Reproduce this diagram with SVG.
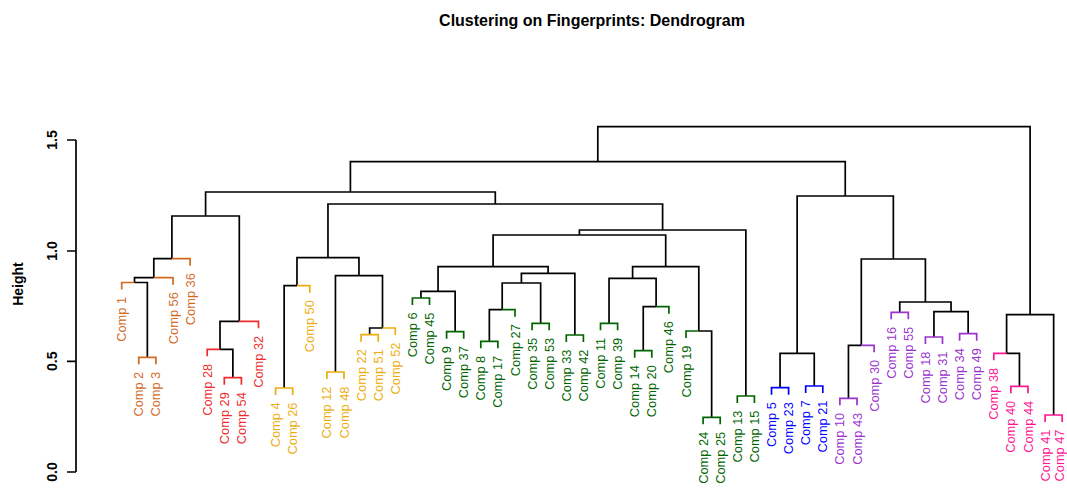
<svg xmlns="http://www.w3.org/2000/svg" width="1067" height="488" viewBox="0 0 1067 488">
<style>
text{font-family:"Liberation Sans",Arial,sans-serif}
.t{font-size:16px;font-weight:bold;fill:#000}
.ax{font-size:14px;font-weight:bold;fill:#000}
.lb{font-size:12.8px}
path{fill:none;stroke-width:1.7}
.k{stroke:#000}
.o{stroke:#D2691E}.r{stroke:#EE2C2C}.y{stroke:#EEAD0E}.g{stroke:#006400}.b{stroke:#0000FF}.p{stroke:#9A32CD}.m{stroke:#FF1493}
.fo{fill:#D2691E}.fr{fill:#EE2C2C}.fy{fill:#EEAD0E}.fg{fill:#006400}.fb{fill:#0000FF}.fp{fill:#9A32CD}.fm{fill:#FF1493}
</style>
<rect width="1067" height="488" fill="#fff"/>
<text class="t" x="592" y="26" text-anchor="middle">Clustering on Fingerprints: Dendrogram</text>
<g id="axis">
<path class="k" d="M76 140 V472 M67 140 H76 M67 251 H76 M67 361.3 H76 M67 472 H76"/>
<text class="ax" transform="translate(56.5,140) rotate(-90)" text-anchor="middle">1.5</text>
<text class="ax" transform="translate(56.5,251) rotate(-90)" text-anchor="middle">1.0</text>
<text class="ax" transform="translate(56.5,361.3) rotate(-90)" text-anchor="middle">0.5</text>
<text class="ax" transform="translate(56.5,472) rotate(-90)" text-anchor="middle">0.0</text>
<text class="ax" transform="translate(23,284) rotate(-90)" text-anchor="middle">Height</text>
</g>
<g id="connectors">
<path class="k" d="M597.8 161.7 V126.7 H1030.1 V314.7"/>
<path class="k" d="M350.4 192 V161.7 H845.25 V196"/>
<path class="k" d="M205.6 216 V192 H495.3 V204"/>
<path class="k" d="M171.9 258.7 V216 H239.3 V321.3"/>
<path class="k" d="M153.8 277.7 V258.7 H171.9"/><path class="o" d="M171.9 258.7 H190.1 V265.7"/>
<path class="k" d="M134.5 282.5 V277.7 H153.75"/><path class="o" d="M153.75 277.7 H173 V284.7"/>
<path class="o" d="M121.7 289.5 V282.5 H134.5"/><path class="k" d="M134.5 282.5 H147.35 V357.3"/>
<path class="o" d="M138.8 364.3 V357.3 H155.9 V364.3"/>
<path class="k" d="M220 349.3 V321.3 H239.25"/><path class="r" d="M239.25 321.3 H258.5 V328.3"/>
<path class="r" d="M207.2 356.3 V349.3 H220"/><path class="k" d="M220 349.3 H232.85 V377.7"/>
<path class="r" d="M224.3 384.7 V377.7 H241.4 V384.7"/>
<path class="k" d="M327.97 257.7 V204 H662.6 V230"/>
<path class="k" d="M296.98 285.7 V257.7 H358.96 V275.7"/>
<path class="k" d="M284.15 388 V285.7 H296.98"/><path class="y" d="M296.98 285.7 H309.8 V292.7"/>
<path class="y" d="M275.6 395 V388 H292.7 V395"/>
<path class="k" d="M335.45 372 V275.7 H382.5 V328"/>
<path class="y" d="M326.9 379 V372 H344 V379"/>
<path class="k" d="M369.65 334.7 V328 H382.5"/><path class="y" d="M382.5 328 H395.3 V335"/>
<path class="y" d="M361.1 341.7 V334.7 H378.2 V341.7"/>
<path class="k" d="M579.4 235 V230 H745.85 V396"/>
<path class="g" d="M737.3 403 V396 H754.4 V403"/>
<path class="k" d="M493.1 266.7 V235 H665.7 V266.7"/>
<path class="k" d="M438.05 291.3 V266.7 H548.1 V273.3"/>
<path class="k" d="M420.95 298 V291.3 H455.15 V331.7"/>
<path class="g" d="M412.4 305 V298 H429.5 V305"/>
<path class="g" d="M446.6 338.7 V331.7 H463.7 V338.7"/>
<path class="k" d="M521.4 283 V273.3 H574.85 V335"/>
<path class="k" d="M502.2 309.7 V283 H540.65 V323.3"/>
<path class="k" d="M489.35 341.3 V309.7 H502.2"/><path class="g" d="M502.2 309.7 H515 V316.7"/>
<path class="g" d="M480.8 348.3 V341.3 H497.9 V348.3"/>
<path class="g" d="M532.1 330.3 V323.3 H549.2 V330.3"/>
<path class="g" d="M566.3 342 V335 H583.4 V342"/>
<path class="k" d="M632.6 278.3 V266.7 H698.8 V331"/>
<path class="k" d="M609.05 323.3 V278.3 H656.1 V306.7"/>
<path class="g" d="M600.5 330.3 V323.3 H617.6 V330.3"/>
<path class="k" d="M643.25 350.7 V306.7 H656.1"/><path class="g" d="M656.1 306.7 H668.9 V313.7"/>
<path class="g" d="M634.7 357.7 V350.7 H651.8 V357.7"/>
<path class="g" d="M686 338 V331 H698.8"/><path class="k" d="M698.8 331 H711.65 V417.3"/>
<path class="g" d="M703.1 424.3 V417.3 H720.2 V424.3"/>
<path class="k" d="M797.15 353.3 V196 H893.35 V259"/>
<path class="k" d="M780.05 387.7 V353.3 H814.25 V386"/>
<path class="b" d="M771.5 394.7 V387.7 H788.6 V394.7"/>
<path class="b" d="M805.7 393 V386 H822.8 V393"/>
<path class="k" d="M861.3 345.3 V259 H925.4 V302"/>
<path class="k" d="M848.45 398.3 V345.3 H861.3"/><path class="p" d="M861.3 345.3 H874.1 V352.3"/>
<path class="p" d="M839.9 405.3 V398.3 H857 V405.3"/>
<path class="k" d="M899.75 312.3 V302 H951.05 V311.7"/>
<path class="p" d="M891.2 319.3 V312.3 H908.3 V319.3"/>
<path class="k" d="M933.95 337 V311.7 H968.15 V333.7"/>
<path class="p" d="M925.4 344 V337 H942.5 V344"/>
<path class="p" d="M959.6 340.7 V333.7 H976.7 V340.7"/>
<path class="k" d="M1006.6 353.3 V314.7 H1053.65 V415"/>
<path class="m" d="M993.8 360.3 V353.3 H1006.6"/><path class="k" d="M1006.6 353.3 H1019.45 V386.3"/>
<path class="m" d="M1010.9 393.3 V386.3 H1028 V393.3"/>
<path class="m" d="M1045.1 422 V415 H1062.2 V422"/>
</g>
<g id="leaf-comp1"><text class="lb fo" transform="translate(126.2,297) rotate(-90)" text-anchor="end">Comp 1</text></g>
<g id="leaf-comp2"><text class="lb fo" transform="translate(143.3,371.8) rotate(-90)" text-anchor="end">Comp 2</text></g>
<g id="leaf-comp3"><text class="lb fo" transform="translate(160.4,371.8) rotate(-90)" text-anchor="end">Comp 3</text></g>
<g id="leaf-comp56"><text class="lb fo" transform="translate(177.5,292.2) rotate(-90)" text-anchor="end">Comp 56</text></g>
<g id="leaf-comp36"><text class="lb fo" transform="translate(194.6,273.2) rotate(-90)" text-anchor="end">Comp 36</text></g>
<g id="leaf-comp28"><text class="lb fr" transform="translate(211.7,363.8) rotate(-90)" text-anchor="end">Comp 28</text></g>
<g id="leaf-comp29"><text class="lb fr" transform="translate(228.8,392.2) rotate(-90)" text-anchor="end">Comp 29</text></g>
<g id="leaf-comp54"><text class="lb fr" transform="translate(245.9,392.2) rotate(-90)" text-anchor="end">Comp 54</text></g>
<g id="leaf-comp32"><text class="lb fr" transform="translate(263,335.8) rotate(-90)" text-anchor="end">Comp 32</text></g>
<g id="leaf-comp4"><text class="lb fy" transform="translate(280.1,402.5) rotate(-90)" text-anchor="end">Comp 4</text></g>
<g id="leaf-comp26"><text class="lb fy" transform="translate(297.2,402.5) rotate(-90)" text-anchor="end">Comp 26</text></g>
<g id="leaf-comp50"><text class="lb fy" transform="translate(314.3,300.2) rotate(-90)" text-anchor="end">Comp 50</text></g>
<g id="leaf-comp12"><text class="lb fy" transform="translate(331.4,386.5) rotate(-90)" text-anchor="end">Comp 12</text></g>
<g id="leaf-comp48"><text class="lb fy" transform="translate(348.5,386.5) rotate(-90)" text-anchor="end">Comp 48</text></g>
<g id="leaf-comp22"><text class="lb fy" transform="translate(365.6,349.2) rotate(-90)" text-anchor="end">Comp 22</text></g>
<g id="leaf-comp51"><text class="lb fy" transform="translate(382.7,349.2) rotate(-90)" text-anchor="end">Comp 51</text></g>
<g id="leaf-comp52"><text class="lb fy" transform="translate(399.8,342.5) rotate(-90)" text-anchor="end">Comp 52</text></g>
<g id="leaf-comp6"><text class="lb fg" transform="translate(416.9,312.5) rotate(-90)" text-anchor="end">Comp 6</text></g>
<g id="leaf-comp45"><text class="lb fg" transform="translate(434,312.5) rotate(-90)" text-anchor="end">Comp 45</text></g>
<g id="leaf-comp9"><text class="lb fg" transform="translate(451.1,346.2) rotate(-90)" text-anchor="end">Comp 9</text></g>
<g id="leaf-comp37"><text class="lb fg" transform="translate(468.2,346.2) rotate(-90)" text-anchor="end">Comp 37</text></g>
<g id="leaf-comp8"><text class="lb fg" transform="translate(485.3,355.8) rotate(-90)" text-anchor="end">Comp 8</text></g>
<g id="leaf-comp17"><text class="lb fg" transform="translate(502.4,355.8) rotate(-90)" text-anchor="end">Comp 17</text></g>
<g id="leaf-comp27"><text class="lb fg" transform="translate(519.5,324.2) rotate(-90)" text-anchor="end">Comp 27</text></g>
<g id="leaf-comp35"><text class="lb fg" transform="translate(536.6,337.8) rotate(-90)" text-anchor="end">Comp 35</text></g>
<g id="leaf-comp53"><text class="lb fg" transform="translate(553.7,337.8) rotate(-90)" text-anchor="end">Comp 53</text></g>
<g id="leaf-comp33"><text class="lb fg" transform="translate(570.8,349.5) rotate(-90)" text-anchor="end">Comp 33</text></g>
<g id="leaf-comp42"><text class="lb fg" transform="translate(587.9,349.5) rotate(-90)" text-anchor="end">Comp 42</text></g>
<g id="leaf-comp11"><text class="lb fg" transform="translate(605,337.8) rotate(-90)" text-anchor="end">Comp 11</text></g>
<g id="leaf-comp39"><text class="lb fg" transform="translate(622.1,337.8) rotate(-90)" text-anchor="end">Comp 39</text></g>
<g id="leaf-comp14"><text class="lb fg" transform="translate(639.2,365.2) rotate(-90)" text-anchor="end">Comp 14</text></g>
<g id="leaf-comp20"><text class="lb fg" transform="translate(656.3,365.2) rotate(-90)" text-anchor="end">Comp 20</text></g>
<g id="leaf-comp46"><text class="lb fg" transform="translate(673.4,321.2) rotate(-90)" text-anchor="end">Comp 46</text></g>
<g id="leaf-comp19"><text class="lb fg" transform="translate(690.5,345.5) rotate(-90)" text-anchor="end">Comp 19</text></g>
<g id="leaf-comp24"><text class="lb fg" transform="translate(707.6,431.8) rotate(-90)" text-anchor="end">Comp 24</text></g>
<g id="leaf-comp25"><text class="lb fg" transform="translate(724.7,431.8) rotate(-90)" text-anchor="end">Comp 25</text></g>
<g id="leaf-comp13"><text class="lb fg" transform="translate(741.8,410.5) rotate(-90)" text-anchor="end">Comp 13</text></g>
<g id="leaf-comp15"><text class="lb fg" transform="translate(758.9,410.5) rotate(-90)" text-anchor="end">Comp 15</text></g>
<g id="leaf-comp5"><text class="lb fb" transform="translate(776,402.2) rotate(-90)" text-anchor="end">Comp 5</text></g>
<g id="leaf-comp23"><text class="lb fb" transform="translate(793.1,402.2) rotate(-90)" text-anchor="end">Comp 23</text></g>
<g id="leaf-comp7"><text class="lb fb" transform="translate(810.2,400.5) rotate(-90)" text-anchor="end">Comp 7</text></g>
<g id="leaf-comp21"><text class="lb fb" transform="translate(827.3,400.5) rotate(-90)" text-anchor="end">Comp 21</text></g>
<g id="leaf-comp10"><text class="lb fp" transform="translate(844.4,412.8) rotate(-90)" text-anchor="end">Comp 10</text></g>
<g id="leaf-comp43"><text class="lb fp" transform="translate(861.5,412.8) rotate(-90)" text-anchor="end">Comp 43</text></g>
<g id="leaf-comp30"><text class="lb fp" transform="translate(878.6,359.8) rotate(-90)" text-anchor="end">Comp 30</text></g>
<g id="leaf-comp16"><text class="lb fp" transform="translate(895.7,326.8) rotate(-90)" text-anchor="end">Comp 16</text></g>
<g id="leaf-comp55"><text class="lb fp" transform="translate(912.8,326.8) rotate(-90)" text-anchor="end">Comp 55</text></g>
<g id="leaf-comp18"><text class="lb fp" transform="translate(929.9,351.5) rotate(-90)" text-anchor="end">Comp 18</text></g>
<g id="leaf-comp31"><text class="lb fp" transform="translate(947,351.5) rotate(-90)" text-anchor="end">Comp 31</text></g>
<g id="leaf-comp34"><text class="lb fp" transform="translate(964.1,348.2) rotate(-90)" text-anchor="end">Comp 34</text></g>
<g id="leaf-comp49"><text class="lb fp" transform="translate(981.2,348.2) rotate(-90)" text-anchor="end">Comp 49</text></g>
<g id="leaf-comp38"><text class="lb fm" transform="translate(998.3,367.8) rotate(-90)" text-anchor="end">Comp 38</text></g>
<g id="leaf-comp40"><text class="lb fm" transform="translate(1015.4,400.8) rotate(-90)" text-anchor="end">Comp 40</text></g>
<g id="leaf-comp44"><text class="lb fm" transform="translate(1032.5,400.8) rotate(-90)" text-anchor="end">Comp 44</text></g>
<g id="leaf-comp41"><text class="lb fm" transform="translate(1049.6,429.5) rotate(-90)" text-anchor="end">Comp 41</text></g>
<g id="leaf-comp47"><text class="lb fm" transform="translate(1064.2,429.5) rotate(-90)" text-anchor="end">Comp 47</text></g>
</svg>
